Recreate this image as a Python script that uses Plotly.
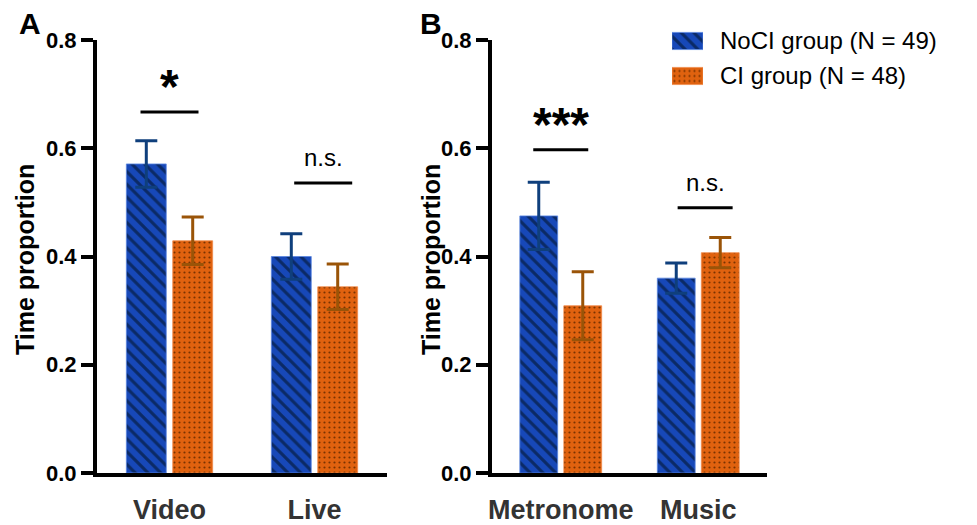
import plotly.graph_objects as go

# ---- data ----
cats_a = ["Video", "Live"]
cats_b = ["Metronome", "Music"]
noci_a = [0.571, 0.400]
noci_a_err = [0.043, 0.042]
ci_a = [0.429, 0.344]
ci_a_err = [0.044, 0.042]
noci_b = [0.475, 0.360]
noci_b_err = [0.062, 0.028]
ci_b = [0.309, 0.407]
ci_b_err = [0.063, 0.028]
series_names = ["NoCI group (N = 49)", "CI group (N = 48)"]
legend_swatch = [1]
sig_a = ["*", "n.s."]
sig_a_line = [0.667, 0.536]
sig_b = ["***", "n.s."]
sig_b_line = [0.597, 0.490]
yticks = [0.0, 0.2, 0.4, 0.6, 0.8]

W, H = 977, 525
BLUE = "#1748B8"
BLUE_FG = "#0B2A66"
BLUE_ERR = "#0F3F7C"
ORANGE = "#E0620F"
ORANGE_FG = "#7A3300"
ORANGE_ERR = "#9A5408"
FONT = "Liberation Sans"

def px_x(p):
    return p / W

def px_y(p):
    return 1 - p / H

fig = go.Figure()

blue_marker = dict(color=BLUE, line=dict(color="#5B86E0", width=0.8),
                   pattern=dict(shape="\\", fgcolor=BLUE_FG, bgcolor=BLUE, size=9, solidity=0.35))
orange_marker = dict(color=ORANGE, line=dict(color="#F08A4A", width=0.8),
                     pattern=dict(shape=".", fgcolor=ORANGE_FG, bgcolor=ORANGE, size=5, solidity=0.15))

def add_panel(cats, noci, noci_err, ci, ci_err, xa, ya):
    fig.add_trace(go.Bar(
        x=cats, y=noci, name=series_names[0], showlegend=False,
        xaxis=xa, yaxis=ya, marker=blue_marker,
        error_y=dict(type="data", array=noci_err, color=BLUE_ERR, thickness=3, width=11),
    ))
    fig.add_trace(go.Bar(
        x=cats, y=ci, name=series_names[1], showlegend=False,
        xaxis=xa, yaxis=ya, marker=orange_marker,
        error_y=dict(type="data", array=ci_err, color=ORANGE_ERR, thickness=3, width=11),
    ))

add_panel(cats_a, noci_a, noci_a_err, ci_a, ci_a_err, "x", "y")
add_panel(cats_b, noci_b, noci_b_err, ci_b, ci_b_err, "x2", "y2")

# legend drawn as a small bar subplot (large pattern swatches + labels)
for name, mk in zip(series_names, [blue_marker, orange_marker]):
    fig.add_trace(go.Bar(
        x=legend_swatch, y=[name], orientation="h", xaxis="x3", yaxis="y3",
        width=0.49, offset=-0.245, showlegend=False, hoverinfo="skip", marker=mk,
    ))

ydom = [px_y(473), px_y(40)]
yaxis_common = dict(
    range=[0, 0.8], tickvals=yticks, ticktext=[f"{v:.1f}" for v in yticks],
    showline=True, linecolor="black", linewidth=4, ticks="outside", ticklen=12,
    tickwidth=4, tickcolor="black", showgrid=False, zeroline=False, automargin=False,
    tickfont=dict(family=FONT, size=22, color="black", weight="bold"),
    domain=ydom, fixedrange=True,
)
xaxis_common = dict(
    range=[-0.5, 1.5], showline=True, linecolor="black", linewidth=4, ticks="",
    showgrid=False, zeroline=False, ticklabelstandoff=10, automargin=False,
    tickfont=dict(family=FONT, size=27, color="#333333", weight="bold"),
    fixedrange=True,
)

fig.update_layout(
    template="none",
    width=W, height=H,
    margin=dict(l=0, r=0, t=0, b=0, autoexpand=False),
    paper_bgcolor="white", plot_bgcolor="white",
    barmode="group", bargap=0.36, bargroupgap=0.14,
    xaxis=dict(**xaxis_common, domain=[px_x(97), px_x(387)], anchor="y"),
    yaxis=dict(**yaxis_common, anchor="x"),
    xaxis2=dict(**xaxis_common, domain=[px_x(492), px_x(767)], anchor="y2"),
    yaxis2=dict(**yaxis_common, anchor="x2"),
    xaxis3=dict(domain=[px_x(672), px_x(703)], range=[0, 1], anchor="y3", visible=False,
                fixedrange=True),
    yaxis3=dict(domain=[px_y(93.5), px_y(23.5)], anchor="x3", side="right",
                autorange="reversed", type="category", showline=False, showgrid=False,
                zeroline=False, ticks="", ticklabelstandoff=16, automargin=False,
                tickfont=dict(family=FONT, size=24, color="black"), fixedrange=True),
    showlegend=False,
)

# significance lines & labels
def add_sig(xref, yref, labels, heights, offsets, label_sizes, label_gap):
    for i, (lab, h) in enumerate(zip(labels, heights)):
        c = i + offsets[i]
        fig.add_shape(type="line", xref=xref, yref=yref, x0=c - 0.2, x1=c + 0.2,
                      y0=h, y1=h, line=dict(color="black", width=3))
        fig.add_annotation(xref=xref, yref=yref, x=c, y=h + label_gap[i], text=lab,
                           showarrow=False, yanchor="bottom", xanchor="center",
                           font=dict(family=FONT, size=label_sizes[i], color="black",
                                     weight="bold" if "*" in lab else "normal"))

add_sig("x", "y", sig_a, sig_a_line, [0.0, 0.06], [48, 24], [-0.005, 0.018])
add_sig("x2", "y2", sig_b, sig_b_line, [0.0, 0.05], [48, 24], [-0.005, 0.018])

# panel letters and y titles
for txt, xp in [("A", 30), ("B", 431)]:
    fig.add_annotation(xref="paper", yref="paper", x=px_x(xp), y=px_y(24), text=txt,
                       xanchor="center", yanchor="middle",
                       showarrow=False, font=dict(family=FONT, size=30, color="black", weight="bold"))
for xp in [25, 431]:
    fig.add_annotation(xref="paper", yref="paper", x=px_x(xp), y=px_y(260),
                       xanchor="center", yanchor="middle",
                       text="Time proportion", textangle=-90, showarrow=False,
                       font=dict(family=FONT, size=25, color="black", weight="bold"))

fig.write_html("out.html", config={"displayModeBar": False, "staticPlot": False},
               post_script="document.body.style.margin='0px';")
